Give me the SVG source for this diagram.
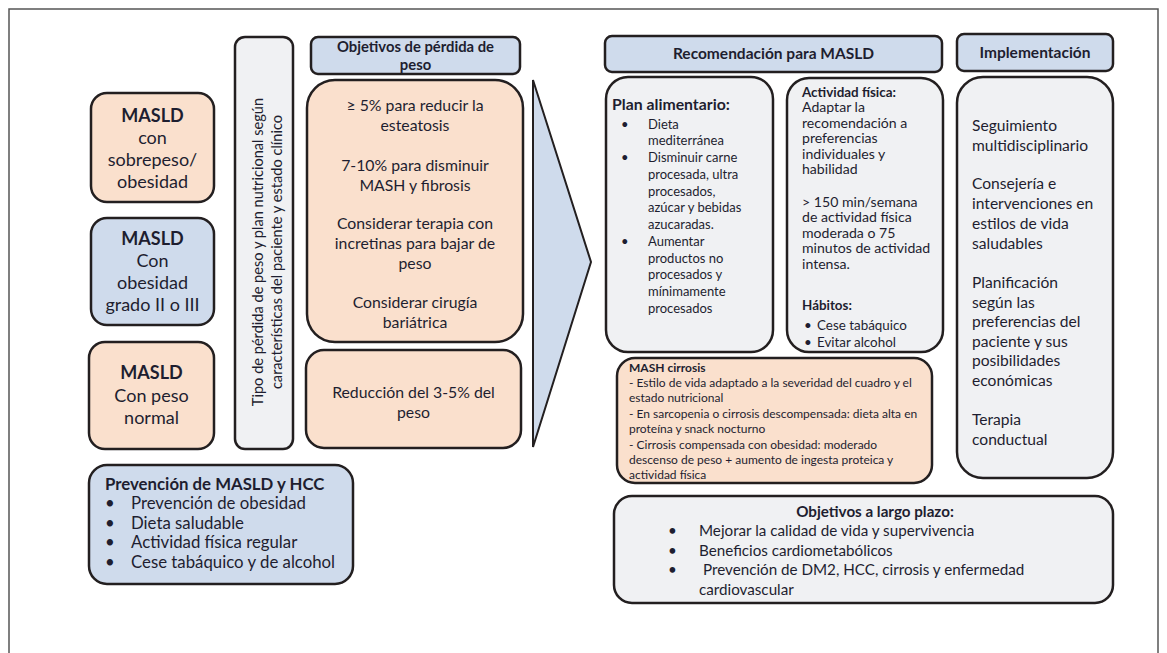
<svg xmlns="http://www.w3.org/2000/svg" width="1167" height="653" viewBox="0 0 1167 653">
<style>
text{font-family:Lato,"Noto Sans","DejaVu Sans",sans-serif;fill:#1e1e30}
.b{font-weight:bold}
.c{text-anchor:middle}
.box{stroke:#231f20;stroke-width:2.5}
.peach{fill:#fae0cd}
.blue{fill:#cfdbec}
.gray{fill:#f0f1f3}
.f17{font-size:18px}
.f16{font-size:15.8px}
.f15{font-size:15.2px}
.f14{font-size:14.1px}
.f11{font-size:12px}
</style>
<rect x="9" y="9" width="1149" height="700" fill="none" stroke="#555" stroke-width="1.5"/>
<g id="connectors">
<polygon points="533,80 591,262 533,447" fill="#cfdbec" stroke="#231f20" stroke-width="2"/>
</g>
<g id="masld-sobrepeso">
<rect class="box peach" x="91" y="93" width="123" height="109" rx="16"/>
<text class="c f17 b" x="152.5" y="122">MASLD</text>
<text class="c f17" x="152.5" y="144">con</text>
<text class="c f17" x="152.5" y="166">sobrepeso/</text>
<text class="c f17" x="152.5" y="188">obesidad</text>
</g>
<g id="masld-obesidad">
<rect class="box blue" x="91" y="218" width="123" height="107" rx="16"/>
<text class="c f17 b" x="152.5" y="245">MASLD</text>
<text class="c f17" x="152.5" y="267">Con</text>
<text class="c f17" x="152.5" y="289">obesidad</text>
<text class="c f17" x="152.5" y="311">grado II o III</text>
</g>
<g id="masld-normal">
<rect class="box peach" x="89" y="342" width="125" height="107" rx="16"/>
<text class="c f17 b" x="151.5" y="379">MASLD</text>
<text class="c f17" x="151.5" y="402">Con peso</text>
<text class="c f17" x="151.5" y="424">normal</text>
</g>
<g id="tipo-perdida">
<rect class="box gray" x="235" y="37" width="58" height="412" rx="10"/>
<text class="c" font-size="14.6" transform="translate(263,252) rotate(-90)">Tipo de pérdida de peso y plan nutricional según</text>
<text class="c" font-size="14.6" transform="translate(282,252) rotate(-90)">características del paciente y estado clínico</text>
</g>
<g id="objetivos-header">
<rect class="box blue" x="311" y="37" width="209" height="37" rx="7"/>
<text class="c b" font-size="14.8" x="415.5" y="52">Objetivos de pérdida de</text>
<text class="c b" font-size="14.8" x="415.5" y="70">peso</text>
</g>
<g id="objetivos-obesidad">
<rect class="box peach" x="307" y="80" width="216" height="262" rx="28"/>
<text class="c f16" x="415" y="110.5">≥ 5% para reducir la</text>
<text class="c f16" x="415" y="130.5">esteatosis</text>
<text class="c f16" x="415" y="170.5">7-10% para disminuir</text>
<text class="c f16" x="415" y="190.5">MASH y fibrosis</text>
<text class="c f16" x="415" y="228.5">Considerar terapia con</text>
<text class="c f16" x="415" y="248.5">incretinas para bajar de</text>
<text class="c f16" x="415" y="268.5">peso</text>
<text class="c f16" x="415" y="307.5">Considerar cirugía</text>
<text class="c f16" x="415" y="327.5">bariátrica</text>
</g>
<g id="objetivos-normal">
<rect class="box peach" x="306" y="350" width="215" height="98" rx="18"/>
<text class="c f16" x="413.5" y="397.5">Reducción del 3-5% del</text>
<text class="c f16" x="413.5" y="417.5">peso</text>
</g>
<g id="recomendacion-header">
<rect class="box blue" x="605" y="36" width="337" height="36" rx="7"/>
<text class="c b" font-size="15.5" x="773.5" y="59">Recomendación para MASLD</text>
</g>
<g id="implementacion-header">
<rect class="box blue" x="957" y="34" width="156" height="37" rx="7"/>
<text class="c b" font-size="15.5" x="1035" y="58">Implementación</text>
</g>
<g id="plan-alimentario">
<rect class="box gray" x="606" y="77" width="167" height="275" rx="22"/>
<text class="b" font-size="15.8" x="612" y="110">Plan alimentario:</text>
<g font-size="13">
<text x="621" y="128.5">•</text><text x="648" y="128.5">Dieta</text>
<text x="648" y="145.2">mediterránea</text>
<text x="621" y="162">•</text><text x="648" y="162">Disminuir carne</text>
<text x="648" y="178.7">procesada, ultra</text>
<text x="648" y="195.5">procesados,</text>
<text x="648" y="212.2">azúcar y bebidas</text>
<text x="648" y="229">azucaradas.</text>
<text x="621" y="245.7">•</text><text x="648" y="245.7">Aumentar</text>
<text x="648" y="262.5">productos no</text>
<text x="648" y="279.2">procesados y</text>
<text x="648" y="296">mínimamente</text>
<text x="648" y="312.7">procesados</text>
</g>
</g>
<g id="actividad-fisica">
<rect class="box gray" x="787" y="78" width="156" height="274" rx="22"/>
<text class="b" font-size="13.4" x="802" y="96.5">Actividad física:</text>
<g class="f14">
<text x="802" y="112">Adaptar la</text>
<text x="802" y="127.5">recomendación a</text>
<text x="802" y="143">preferencias</text>
<text x="802" y="158.5">individuales y</text>
<text x="802" y="174">habilidad</text>
<text x="802" y="206.5">&gt; 150 min/semana</text>
<text x="802" y="222">de actividad física</text>
<text x="802" y="237.5">moderada o 75</text>
<text x="802" y="253">minutos de actividad</text>
<text x="802" y="268.5">intensa.</text>
</g>
<text class="b" font-size="13.4" x="802" y="310">Hábitos:</text>
<g font-size="13.4">
<text x="804" y="330">•</text><text x="817" y="330">Cese tabáquico</text>
<text x="804" y="347">•</text><text x="817" y="347">Evitar alcohol</text>
</g>
</g>
<g id="mash-cirrosis">
<rect class="box peach" x="617" y="358" width="315" height="125" rx="18"/>
<g class="f11">
<text class="b" x="629" y="372">MASH cirrosis</text>
<text x="629" y="387">- Estilo de vida adaptado a la severidad del cuadro y el</text>
<text x="629" y="402">estado nutricional</text>
<text x="629" y="417.5">- En sarcopenia o cirrosis descompensada: dieta alta en</text>
<text x="629" y="433">proteína y snack nocturno</text>
<text x="629" y="448.5">- Cirrosis compensada con obesidad: moderado</text>
<text x="629" y="464">descenso de peso + aumento de ingesta proteica y</text>
<text x="629" y="479">actividad física</text>
</g>
</g>
<g id="implementacion">
<rect class="box gray" x="957" y="77" width="156" height="401" rx="26"/>
<g font-size="15.6">
<text x="972" y="130.5">Seguimiento</text>
<text x="972" y="150.5">multidisciplinario</text>
<text x="972" y="188.5">Consejería e</text>
<text x="972" y="208.5">intervenciones en</text>
<text x="972" y="228.5">estilos de vida</text>
<text x="972" y="248.5">saludables</text>
<text x="972" y="287.5">Planificación</text>
<text x="972" y="307.5">según las</text>
<text x="972" y="327">preferencias del</text>
<text x="972" y="346.5">paciente y sus</text>
<text x="972" y="366">posibilidades</text>
<text x="972" y="385.5">económicas</text>
<text x="972" y="424.5">Terapia</text>
<text x="972" y="444.5">conductual</text>
</g>
</g>
<g id="objetivos-largo-plazo">
<rect class="box gray" x="614" y="496" width="499" height="107" rx="18"/>
<text class="c b" font-size="15.2" x="875" y="516.5">Objetivos a largo plazo:</text>
<g class="f15">
<text x="668" y="535.5">•</text><text x="699" y="535.5">Mejorar la calidad de vida y supervivencia</text>
<text x="668" y="555.5">•</text><text x="699" y="555.5">Beneficios cardiometabólicos</text>
<text x="668" y="575">•</text><text x="703" y="575">Prevención de DM2, HCC, cirrosis y enfermedad</text>
<text x="699" y="594.5">cardiovascular</text>
</g>
</g>
<g id="prevencion">
<rect class="box blue" x="89" y="465" width="264" height="119" rx="18"/>
<text class="b" font-size="16.8" x="105" y="490">Prevención de MASLD y HCC</text>
<g font-size="16.8">
<text x="105" y="509">•</text><text x="131" y="509">Prevención de obesidad</text>
<text x="105" y="529">•</text><text x="131" y="529">Dieta saludable</text>
<text x="105" y="548">•</text><text x="131" y="548">Actividad física regular</text>
<text x="105" y="568">•</text><text x="131" y="568">Cese tabáquico y de alcohol</text>
</g>
</g>
</svg>
